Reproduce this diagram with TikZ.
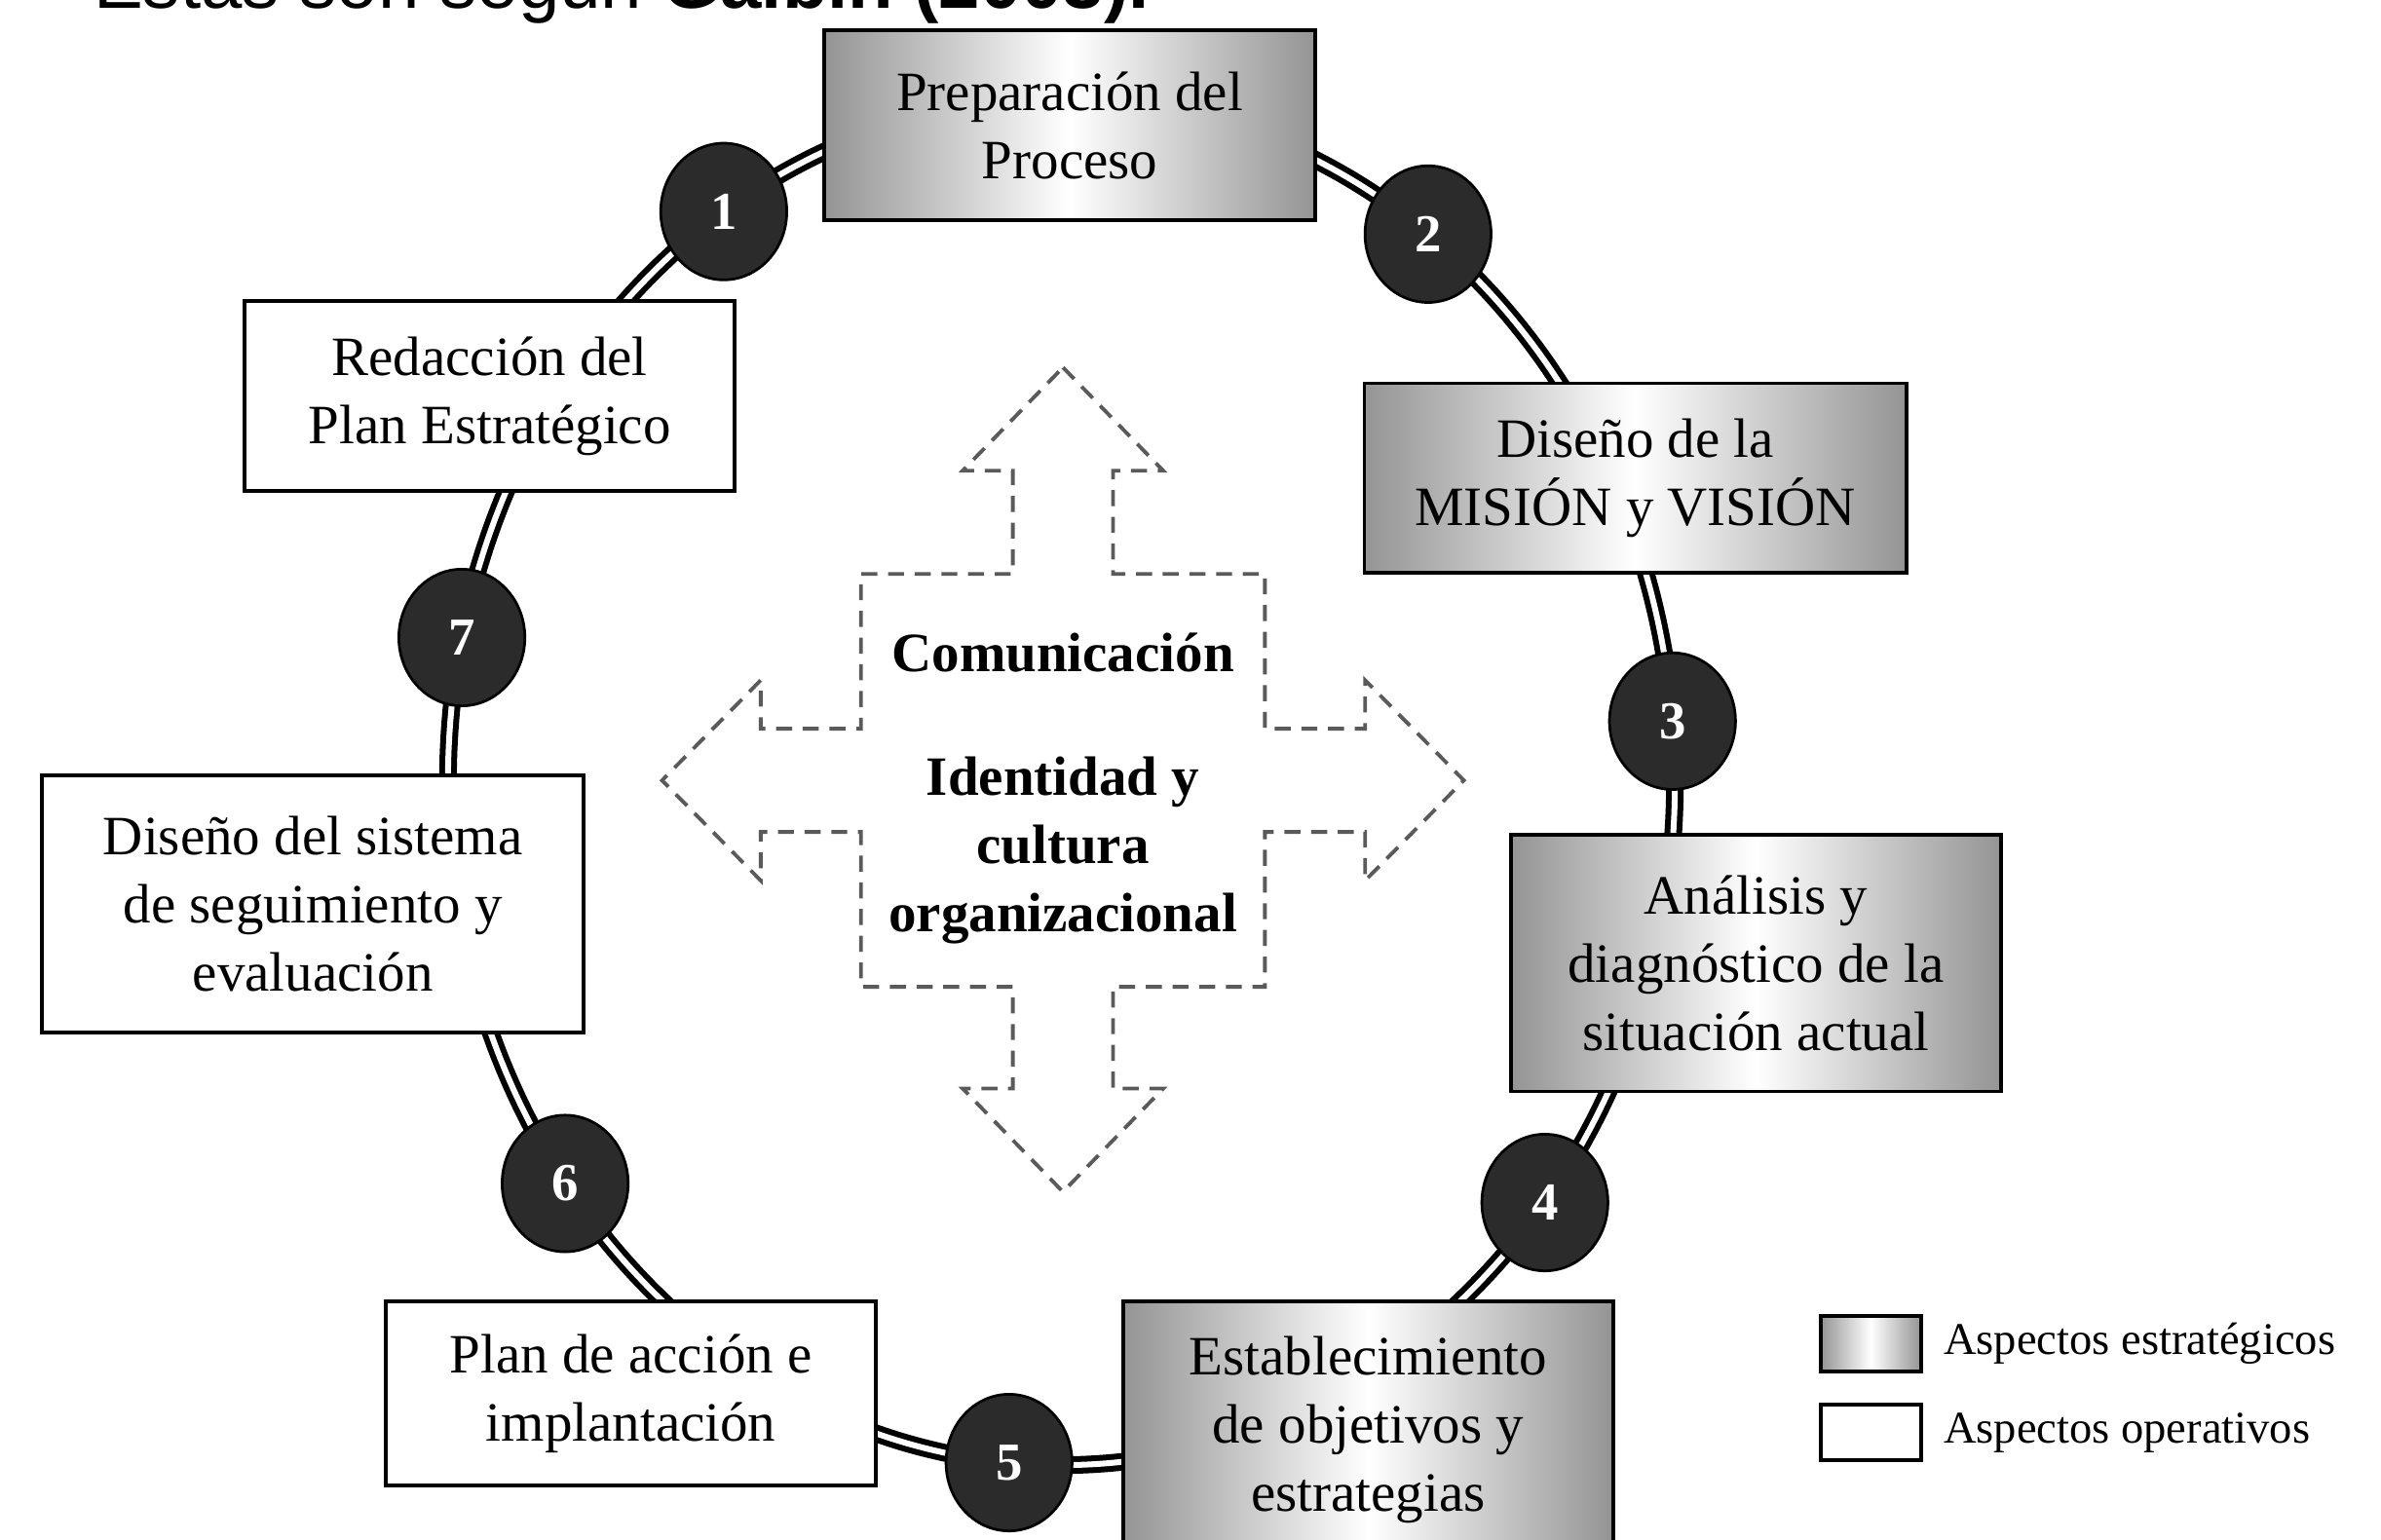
\documentclass[tikz,border=0pt]{standalone}
\usepackage{fontspec}
\setmainfont{Liberation Serif}
\newfontfamily\headfont{Liberation Sans}
\usepackage{xcolor}
\usetikzlibrary{positioning,shapes.geometric}
\definecolor{numgray}{HTML}{2B2B2B}
\definecolor{spreadgray}{HTML}{5A5A5A}

\begin{document}
\begin{tikzpicture}[
      node distance=1cm and 1cm,
      font=\fontsize{10.4}{12.8}\selectfont,
      box/.style={draw, line width=0.7pt, align=center, minimum width=3.23cm,
        minimum height=1.25cm, inner sep=2pt},
      strat/.style={box, left color=black!42, right color=black!42, middle color=white},
      oper/.style={box, fill=white},
      wide/.style={minimum width=3.57cm},
      tall/.style={minimum height=1.69cm},
      num/.style={ellipse, draw=black, line width=0.5pt, fill=numgray, text=white,
        font=\fontsize{10}{12}\selectfont\bfseries, minimum width=0.83cm,
        minimum height=0.9cm, inner sep=0pt},
      ring/.style={draw=black, line width=1.1pt, double=white, double distance=1.1pt},
      spread/.style={draw=spreadgray, line width=0.7pt, dash pattern=on 3pt off 2pt},
      core/.style={font=\fontsize{10.4}{12.8}\selectfont\bfseries, align=center},
      legend/.style={font=\fontsize{8.5}{10}\selectfont, inner sep=0pt}
    ]
    \useasboundingbox (0,0) rectangle (15.68,-10.14);
    \clip (0,0) rectangle (15.68,-10.14);

    \node[anchor=base west, inner sep=0pt, font=\headfont\fontsize{13.9}{16}\selectfont]
      (intro) at (0.61,-0.055) {Estas son según \textbf{Galbin (2003).}};

    \coordinate (ctr) at (6.99,-5.15);
    \draw[ring] (ctr) ellipse [x radius=4.04cm, y radius=4.5cm];

    \node[strat] (prep) at (7.045,-0.825) {Preparación del\\Proceso};
    \node[strat, wide, below right=1.05cm and 0.30cm of prep] (mision) {Diseño de la\\MISIÓN y VISIÓN};
    \node[strat, tall, below right=1.70cm and -2.63cm of mision] (analisis) {Análisis y\\diagnóstico de la\\situación actual};
    \node[strat, tall, below left=1.36cm and -0.70cm of analisis] (estab) {Establecimiento\\de objetivos y\\estrategias};
    \node[oper, minimum height=1.21cm, left=1.6cm of estab.north west, anchor=north east] (plan) {Plan de acción e\\implantación};
    \node[oper, wide, tall, above left=1.75cm and -1.33cm of plan] (sistema) {Diseño del sistema\\de seguimiento y\\evaluación};
    \node[oper, above right=1.85cm and -2.26cm of sistema] (redaccion) {Redacción del\\Plan Estratégico};

    \node[num] (n1) at ([shift={(123.4:4.04cm and 4.5cm)}]ctr) {1};
    \node[num] (n2) at ([shift={(53.3:4.04cm and 4.5cm)}]ctr) {2};
    \node[num] (n3) at ([shift={(5.1:4.04cm and 4.5cm)}]ctr) {3};
    \node[num] (n4) at ([shift={(-38:4.04cm and 4.5cm)}]ctr) {4};
    \node[num] (n5) at ([shift={(-94.9:4.04cm and 4.5cm)}]ctr) {5};
    \node[num] (n6) at ([shift={(-144:4.04cm and 4.5cm)}]ctr) {6};
    \node[num] (n7) at ([shift={(167.8:4.04cm and 4.5cm)}]ctr) {7};

    \coordinate (mid) at (7.0,-5.14);
    \draw[spread, shift={(mid)}] (0,2.72) -- (0.66,2.04) -- (0.33,2.04) -- (0.33,1.36)
      -- (1.33,1.36) -- (1.33,0.34) -- (1.99,0.34) -- (1.99,0.66) -- (2.64,0)
      -- (1.99,-0.66) -- (1.99,-0.34) -- (1.33,-0.34) -- (1.33,-1.36) -- (0.33,-1.36)
      -- (0.33,-2.03) -- (0.66,-2.03) -- (0,-2.71) -- (-0.66,-2.03) -- (-0.33,-2.03)
      -- (-0.33,-1.36) -- (-1.33,-1.36) -- (-1.33,-0.34) -- (-1.99,-0.34) -- (-1.99,-0.66)
      -- (-2.64,0) -- (-1.99,0.66) -- (-1.99,0.34) -- (-1.33,0.34) -- (-1.33,1.36)
      -- (-0.33,1.36) -- (-0.33,2.04) -- (-0.66,2.04) -- cycle;
    \node[core] (comu) at ([yshift=0.84cm]mid) {Comunicación};
    \node[core] (ident) at ([yshift=-0.46cm]mid) {Identidad y\\cultura\\organizacional};

    \node[strat, minimum width=0.66cm, minimum height=0.37cm] (legstrat) at (12.32,-8.85) {};
    \node[oper, minimum width=0.66cm, minimum height=0.37cm, below=0.19cm of legstrat] (legoper) {};
    \node[legend, right=0.13cm of legstrat] (txtstrat) {Aspectos estratégicos};
    \node[legend, right=0.13cm of legoper] (txtoper) {Aspectos operativos};
  \end{tikzpicture}
\end{document}
